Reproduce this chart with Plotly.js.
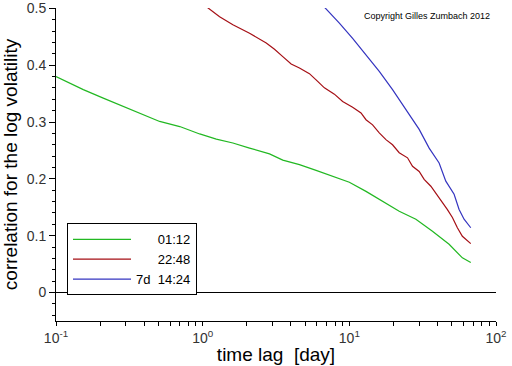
<!DOCTYPE html>
<html>
<head>
<meta charset="utf-8">
<script src="https://cdn.plot.ly/plotly-3.0.1.min.js"></script>
<style>html,body{margin:0;padding:0;background:#fff;}#chart{width:512px;height:366px;}</style>
</head>
<body>
<div id="chart"></div>
<script>
// Series: time lag [day] and correlation for the log volatility
const seriesNames = ["\u00A0\u00A0\u00A0\u00A0\u00A0\u00A001:12", "\u00A0\u00A0\u00A0\u00A0\u00A0\u00A022:48", "7d\u00A0\u00A014:24"];

const greenLag = [0.1, 0.1245, 0.1535, 0.21, 0.319, 0.509, 0.698, 0.954, 1.239, 1.607, 2.088, 2.856, 3.518, 4.570, 5.935, 7.699, 10.0, 12.99, 16.85, 21.88, 28.43, 36.87, 47.89, 58.98, 67.29];
const greenCorr = [0.380, 0.368, 0.357, 0.342, 0.322, 0.301, 0.292, 0.279, 0.270, 0.263, 0.254, 0.244, 0.233, 0.225, 0.215, 0.205, 0.194, 0.178, 0.161, 0.143, 0.129, 0.108, 0.085, 0.061, 0.053];

const redLag = [1.070, 1.305, 1.607, 2.088, 2.713, 3.089, 3.518, 4.012, 4.570, 5.345, 5.935, 6.761, 7.907, 9.004, 10.53, 12.01, 12.99, 14.41, 16.00, 17.77, 19.71, 21.88, 24.93, 26.96, 29.94, 32.37, 35.96, 38.89, 42.05, 46.65, 50.44, 54.54, 58.98, 67.29];
const redCorr = [0.502, 0.485, 0.471, 0.456, 0.439, 0.428, 0.415, 0.402, 0.395, 0.385, 0.374, 0.360, 0.349, 0.336, 0.326, 0.316, 0.304, 0.295, 0.281, 0.269, 0.260, 0.246, 0.237, 0.222, 0.213, 0.199, 0.187, 0.175, 0.161, 0.146, 0.132, 0.114, 0.099, 0.086];

const blueLag = [6.761, 8.551, 10.53, 12.99, 16.00, 19.71, 24.31, 29.94, 35.01, 40.94, 45.48, 51.80, 56.02, 60.58, 67.29];
const blueCorr = [0.502, 0.474, 0.447, 0.418, 0.389, 0.357, 0.322, 0.287, 0.254, 0.228, 0.196, 0.173, 0.146, 0.129, 0.114];

const xTickVals = [0.1,0.2,0.3,0.4,0.5,0.6,0.7,0.8,0.9,1,2,3,4,5,6,7,8,9,10,20,30,40,50,60,70,80,90,100];
const xTickText = xTickVals.map(v => v === 0.1 ? "10<sup>-1</sup>" : v === 1 ? "10<sup>0</sup>" : v === 10 ? "10<sup>1</sup>" : v === 100 ? "10<sup>2</sup>" : "");

const colors = ["#22b822", "#a50f15", "#3434c0"];

const traces = [
  {x: greenLag, y: greenCorr, name: seriesNames[0], line: {color: colors[0], width: 1.2}},
  {x: redLag, y: redCorr, name: seriesNames[1], line: {color: colors[1], width: 1.2}},
  {x: blueLag, y: blueCorr, name: seriesNames[2], line: {color: colors[2], width: 1.2}}
].map(t => Object.assign({type: "scatter", mode: "lines"}, t));

const font = "Liberation Sans, Arial, sans-serif";
const layout = {
  width: 512, height: 366,
  margin: {l: 56, r: 16, t: 8, b: 45},
  paper_bgcolor: "#fff", plot_bgcolor: "#fff",
  font: {family: font, color: "#000"},
  showlegend: true,
  legend: {
    x: 0.025, y: 0.312, xanchor: "left", yanchor: "top",
    bordercolor: "#000", borderwidth: 1, bgcolor: "#fff",
    font: {family: font, size: 13, color: "#000"},
    itemwidth: 58, tracegroupgap: 0
  },
  xaxis: {
    type: "log", range: [-1, 2],
    tickmode: "array", tickvals: xTickVals, ticktext: xTickText,
    ticks: "outside", ticklen: 4, tickcolor: "#000", tickwidth: 1,
    showline: true, linecolor: "#000", linewidth: 1, mirror: false,
    showgrid: false, zeroline: false,
    tickfont: {family: font, size: 14, color: "#333"},
    title: {text: "time lag\u00A0\u00A0[day]", font: {family: font, size: 19, color: "#000"}, standoff: 2}
  },
  yaxis: {
    range: [-0.05, 0.5005],
    tickmode: "linear", tick0: 0, dtick: 0.1,
    ticks: "outside", ticklen: 6, tickcolor: "#000", tickwidth: 1,
    minor: {dtick: 0.02, tick0: 0, ticks: "outside", ticklen: 3, tickcolor: "#000", tickwidth: 1, showgrid: false},
    showline: true, linecolor: "#000", linewidth: 1, mirror: false,
    showgrid: false, zeroline: true, zerolinecolor: "#000", zerolinewidth: 1,
    tickfont: {family: font, size: 14, color: "#333"},
    title: {text: "correlation for the log volatility", font: {family: font, size: 19, color: "#000"}, standoff: 6}
  },
  annotations: [{
    text: "Copyright Gilles Zumbach 2012", xref: "paper", yref: "paper",
    x: 0.991, y: 0.976, xanchor: "right", yanchor: "middle", showarrow: false,
    font: {family: font, size: 9, color: "#000"}
  }]
};

Plotly.newPlot("chart", traces, layout, {staticPlot: true, displayModeBar: false});
</script>
</body>
</html>
